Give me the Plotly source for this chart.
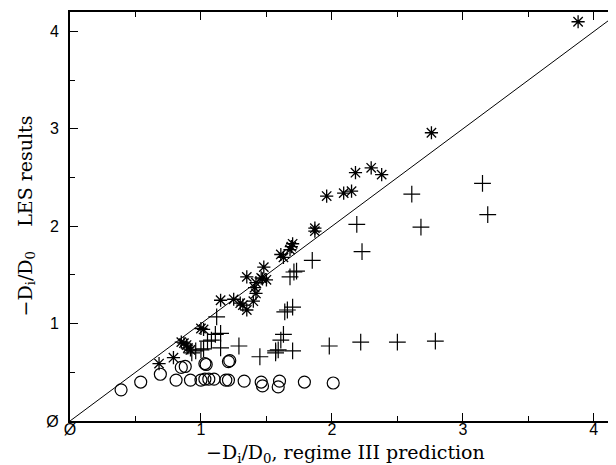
import plotly.graph_objects as go

# asterisks
ast_x = [0.68, 0.79, 0.85, 0.87, 0.89, 0.90, 0.92, 1.00, 1.02, 1.15, 1.25, 1.30, 1.32, 1.35,
         1.40, 1.35, 1.42, 1.41, 1.42, 1.46, 1.47, 1.50, 1.48, 1.61, 1.63, 1.68, 1.70, 1.69,
         1.87, 1.87, 1.96, 2.09, 2.15, 2.18, 2.30, 2.38, 2.76, 3.88]
ast_y = [0.59, 0.65, 0.81, 0.80, 0.78, 0.75, 0.73, 0.95, 0.94, 1.24, 1.25, 1.21, 1.19, 1.14,
         1.23, 1.48, 1.42, 1.37, 1.31, 1.47, 1.46, 1.45, 1.58, 1.71, 1.68, 1.76, 1.82, 1.79,
         1.98, 1.95, 2.31, 2.34, 2.36, 2.55, 2.60, 2.53, 2.96, 4.10]

# plus signs
plus_x = [0.93, 0.96, 1.00, 1.02, 1.05, 1.08, 1.11, 1.15, 1.12, 1.15, 1.29, 1.45, 1.57, 1.57,
          1.59, 1.61, 1.63, 1.70, 1.98, 1.64, 1.66, 1.70, 1.68, 1.71, 1.73, 1.85, 2.19, 2.23,
          2.61, 2.68, 3.15, 3.19, 2.22, 2.50, 2.79]
plus_y = [0.70, 0.72, 0.73, 0.74, 0.82, 0.83, 0.89, 0.90, 1.07, 0.75, 0.77, 0.66, 0.70, 0.72,
          0.73, 0.83, 0.89, 0.72, 0.77, 1.12, 1.14, 1.17, 1.48, 1.53, 1.54, 1.65, 2.02, 1.74,
          2.33, 1.99, 2.44, 2.12, 0.81, 0.81, 0.82]

# circles
circ_x = [0.39, 0.54, 0.69, 0.81, 0.85, 0.88, 0.92, 1.00, 1.03, 1.06, 1.10, 1.03, 1.04, 1.19,
          1.21, 1.22, 1.21, 1.33, 1.46, 1.47, 1.60, 1.59, 1.79, 2.01]
circ_y = [0.32, 0.40, 0.48, 0.42, 0.55, 0.56, 0.42, 0.42, 0.43, 0.43, 0.43, 0.59, 0.58, 0.42,
          0.42, 0.62, 0.61, 0.41, 0.40, 0.36, 0.41, 0.35, 0.40, 0.39]

line_x = [0, 4.2]
line_y = [0, 4.2]

tick_vals = [0, 1, 2, 3, 4]
tick_text = ["Ø", "1", "2", "3", "4"]

x_title = "−D<sub>i</sub>/D<sub>0</sub>, regime III prediction"
y_title = "−D<sub>i</sub>/D<sub>0</sub>\u00a0\u00a0\u00a0 LES results"

fig = go.Figure()
fig.add_trace(go.Scatter(x=line_x, y=line_y, mode="lines",
                         line=dict(color="black", width=1), showlegend=False))
fig.add_trace(go.Scatter(x=circ_x, y=circ_y, mode="markers",
                         marker=dict(symbol="circle-open", size=12, color="black",
                                     line=dict(width=1.2, color="black")),
                         showlegend=False))
fig.add_trace(go.Scatter(x=plus_x, y=plus_y, mode="markers",
                         marker=dict(symbol="cross-thin-open", size=12, color="black",
                                     line=dict(width=1.2, color="black")),
                         showlegend=False))
fig.add_trace(go.Scatter(x=ast_x, y=ast_y, mode="markers",
                         marker=dict(symbol="asterisk-open", size=11, color="black",
                                     line=dict(width=1.3, color="black")),
                         showlegend=False))

axis_common = dict(
    range=[0, 4.2], showgrid=False, zeroline=False, showline=True, linecolor="black",
    linewidth=2, mirror="ticks", ticks="inside", ticklen=8, tickwidth=1, tickcolor="black",
    tickvals=tick_vals, ticktext=tick_text, automargin=False,
    tickfont=dict(family="Liberation Sans, Arial, sans-serif", size=16, color="black"),
    minor=dict(ticks="inside", ticklen=5, tickwidth=1, tickcolor="black", dtick=0.5, tick0=0),
)

title_font = dict(family="DejaVu Serif, serif", size=19, color="black")

fig.update_layout(
    width=616, height=465,
    margin=dict(l=62, r=4, t=4, b=52),
    paper_bgcolor="white", plot_bgcolor="white",
    xaxis=dict(**axis_common, ticklabelstandoff=-7),
    yaxis=dict(**axis_common, ticklabelstandoff=6),
    annotations=[
        dict(text=x_title, xref="paper", yref="paper", x=0.5, y=0, xanchor="center",
             yanchor="middle", yshift=-32, showarrow=False, font=title_font),
        dict(text=y_title, xref="paper", yref="paper", x=0, y=0.5, xanchor="center",
             yanchor="middle", xshift=-44, textangle=-90, showarrow=False, font=title_font),
    ],
)

fig.write_html("out.html")
